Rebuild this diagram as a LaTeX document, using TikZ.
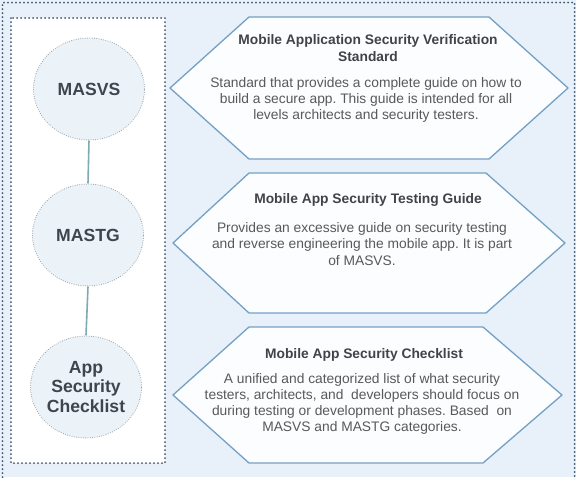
\documentclass[tikz,border=0pt]{standalone}
\usepackage{fontspec}
\setmainfont{Liberation Sans}
\usetikzlibrary{shapes.geometric}
\frenchspacing
\definecolor{bgblue}{HTML}{E8F1F9}
\definecolor{framec}{HTML}{3F566F}
\definecolor{circfill}{HTML}{EBF2F8}
\definecolor{circline}{HTML}{98A1AA}
\definecolor{hexfill}{HTML}{FBFDFF}
\definecolor{hexline}{HTML}{74A0C4}
\definecolor{linkc}{HTML}{7FAAB2}
\definecolor{titlec}{HTML}{404448}
\definecolor{bodyc}{HTML}{58595B}
\definecolor{circtext}{HTML}{3E454D}
\tikzset{
  dotframe/.style={draw=framec, line width=2pt, dash pattern=on 0pt off 4pt, line cap=round},
  circ/.style={ellipse, minimum width=111pt, minimum height=102pt, fill=circfill, draw=circline, line width=1.1pt, dash pattern=on 0pt off 2.3pt, line cap=round, text=circtext, font=\bfseries\fontsize{17.6}{19.5}\selectfont, align=center, inner sep=0pt},
  hexbox/.style={fill=hexfill, draw=hexline, line width=1.3pt, line join=round},
  titletext/.style={text=titlec, font=\bfseries\fontsize{13.8}{17}\selectfont, align=center},
  bodytext/.style={text=bodyc, font=\fontsize{13.8}{16.2}\selectfont, align=center},
  link/.style={draw=linkc, line width=1.6pt}
}
\begin{document}
\begin{tikzpicture}[x=1pt,y=-1pt]
\fill[bgblue] (0,0) rectangle (576,477);
\useasboundingbox (0,0) rectangle (576,477);
% outer dotted frame (open at bottom)
\draw[dotframe] (2.5,485) -- (2.5,2.5) -- (574.5,2.5) -- (574.5,485);
% inner white panel
\fill[white] (11,18) rectangle (165,463);
\draw[dotframe] (11,18) rectangle (165,463);
% circles
\node[circ] (masvs) at (89,89) {MASVS};
\node[circ] (mastg) at (88,235) {MASTG};
\node[circ] (masc) at (86,387) {App\\Security\\Checklist};
\draw[link] (masvs.south) -- (mastg.north);
\draw[link] (mastg.south) -- (masc.north);
% hexagons
\draw[hexbox] (170,88) -- (249,17) -- (489,17) -- (568,88) -- (489,159) -- (249,159) -- cycle;
\draw[hexbox] (173,243) -- (249,173) -- (486,173) -- (565,243) -- (486,313) -- (249,313) -- cycle;
\draw[hexbox] (173,395) -- (249,327) -- (483,327) -- (562,395) -- (483,463) -- (249,463) -- cycle;
% texts
\node[titletext] (t1) at (368,48) {Mobile Application Security Verification\\Standard};
\node[bodytext] (b1) at (366,100) {Standard that provides a complete guide on how to\\build a secure app. This guide is intended for all\\levels architects and security testers.};
\node[titletext] (t2) at (368,200) {Mobile App Security Testing Guide};
\node[bodytext] (b2) at (362,244) {Provides an excessive guide on security testing\\and reverse engineering the mobile app. It is part\\of MASVS.};
\node[titletext] (t3) at (364,355) {Mobile App Security Checklist};
\node[bodytext] (b3) at (362,404) {A unified and categorized list of what security\\testers, architects, and\ \ developers should focus on\\during testing or development phases. Based\ \ on\\MASVS and MASTG categories.};
\end{tikzpicture}
\end{document}
